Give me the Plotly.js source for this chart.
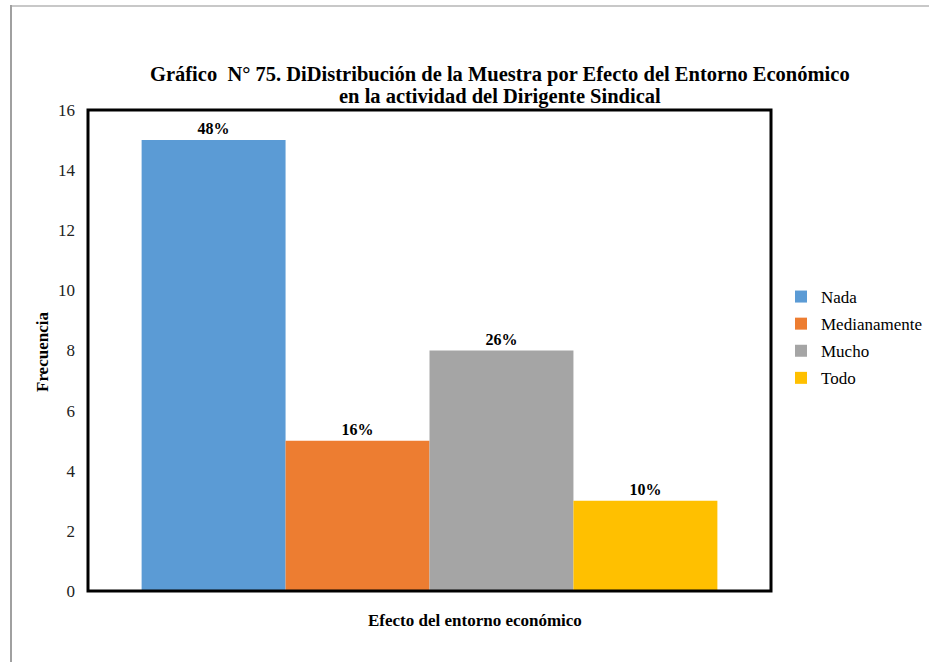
<!DOCTYPE html>
<html>
<head>
<meta charset="utf-8">
<script src="https://cdn.plot.ly/plotly-3.0.1.min.js"></script>
<style>
  body { margin: 0; background: #fff; }
  #wrap { position: relative; width: 929px; height: 662px; }
  #chart { width: 929px; height: 662px; }
  #frameTop { position: absolute; left: 10px; top: 5px; width: 919px; height: 0; border-top: 2px solid #c8c8c8; pointer-events: none; }
  #frameLeft { position: absolute; left: 10px; top: 5px; width: 0; height: 657px; border-left: 2px solid #a0a0a0; pointer-events: none; }
</style>
</head>
<body>
<div id="wrap">
  <div id="chart"></div>
  <div id="frameTop"></div>
  <div id="frameLeft"></div>
</div>
<script>
const categories = ['Nada', 'Medianamente', 'Mucho', 'Todo'];
const frequencies = [15, 5, 8, 3];
const percentLabels = ['48%', '16%', '26%', '10%'];
const colors = ['#5B9BD5', '#ED7D31', '#A5A5A5', '#FFC000'];
const groupLabel = ['Efecto del entorno económico'];
const titleLines = [
  'Gráfico  N° 75. DiDistribución de la Muestra por Efecto del Entorno Económico',
  'en la actividad del Dirigente Sindical'
];

const serif = "'Liberation Serif', 'Times New Roman', serif";

const traces = categories.map((name, i) => ({
  type: 'bar',
  name: name,
  x: groupLabel,
  y: [frequencies[i]],
  text: ['<b>' + percentLabels[i] + '</b>'],
  textposition: 'outside',
  textfont: { family: serif, size: 16, color: '#000' },
  cliponaxis: false,
  marker: { color: colors[i], line: { width: 0 } },
  legendgroup: name,
  hoverinfo: 'name+y'
}));

const px = v => (v - 88) / 683;
const py = v => (591 - v) / 481;

const layout = {
  width: 929,
  height: 662,
  margin: { l: 88, r: 158, t: 110, b: 71, autoexpand: false },
  paper_bgcolor: '#fff',
  plot_bgcolor: '#fff',
  barmode: 'group',
  bargap: 0.157,
  bargroupgap: 0,
  showlegend: true,
  legend: {
    x: px(781), xanchor: 'left',
    y: py(279), yanchor: 'top',
    font: { family: serif, size: 17, color: '#000' },
    tracegroupgap: 2,
    itemwidth: 30,
    bgcolor: 'rgba(0,0,0,0)'
  },
  xaxis: {
    showticklabels: false,
    ticks: '',
    showgrid: false,
    zeroline: false,
    showline: false
  },
  yaxis: {
    range: [0, 16],
    dtick: 2,
    showgrid: false,
    zeroline: false,
    showline: false,
    ticks: '',
    ticklabelstandoff: 12,
    tickfont: { family: serif, size: 17, color: '#222' }
  },
  shapes: [{
    type: 'rect', xref: 'paper', yref: 'paper',
    x0: 0, x1: 1, y0: 0, y1: 1,
    line: { color: '#000', width: 3 },
    fillcolor: 'rgba(0,0,0,0)',
    layer: 'above'
  }],
  annotations: [
    {
      text: '<b>' + titleLines[0] + '</b>',
      xref: 'paper', yref: 'paper',
      x: px(500), y: py(75),
      xanchor: 'center', yanchor: 'middle',
      showarrow: false,
      font: { family: serif, size: 20.5, color: '#000' }
    },
    {
      text: '<b>' + titleLines[1] + '</b>',
      xref: 'paper', yref: 'paper',
      x: px(500), y: py(96),
      xanchor: 'center', yanchor: 'middle',
      showarrow: false,
      font: { family: serif, size: 20.5, color: '#000' }
    },
    {
      text: '<b>Efecto del entorno económico</b>',
      xref: 'paper', yref: 'paper',
      x: px(475), y: py(620),
      xanchor: 'center', yanchor: 'middle',
      showarrow: false,
      font: { family: serif, size: 17, color: '#000' }
    },
    {
      text: '<b>Frecuencia</b>',
      xref: 'paper', yref: 'paper',
      x: px(42), y: py(352),
      xanchor: 'center', yanchor: 'middle',
      textangle: -90,
      showarrow: false,
      font: { family: serif, size: 17, color: '#000' }
    }
  ]
};

Plotly.newPlot('chart', traces, layout, { displayModeBar: false, responsive: false });
</script>
</body>
</html>
